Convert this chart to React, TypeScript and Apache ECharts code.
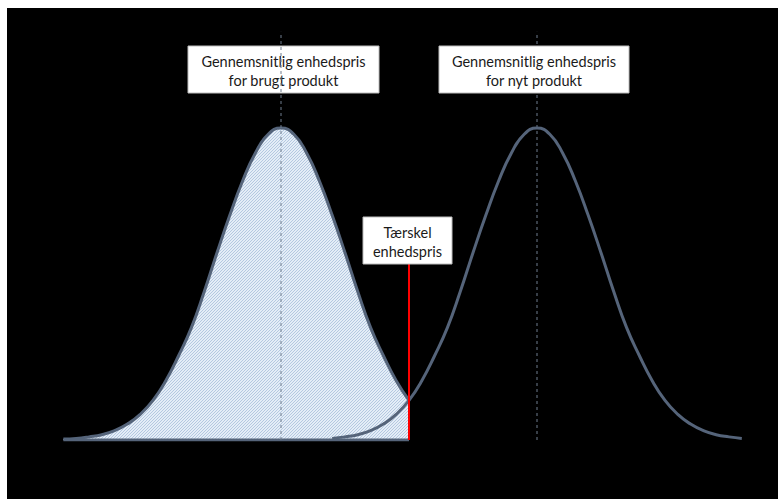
import React, { useEffect, useRef } from "react";
import * as echarts from "echarts";

// Price positions (arbitrary price units) and relative frequency (peak = 1)
const usedPrices = [13, 14, 15, 16, 17, 18, 19, 20, 21, 22, 23, 24, 25, 26, 27, 28, 29, 30, 31, 32, 33, 34, 35, 36, 37, 38, 39, 40];
const usedDensity = [0.003, 0.005, 0.01, 0.017, 0.03, 0.051, 0.082, 0.127, 0.19, 0.27, 0.36, 0.475, 0.6, 0.72, 0.83, 0.92, 0.98, 1, 0.98, 0.92, 0.83, 0.72, 0.6, 0.475, 0.36, 0.27, 0.19, 0.127];
const newPrices = [34, 35, 36, 37, 38, 39, 40, 41, 42, 43, 44, 45, 46, 47, 48, 49, 50, 51, 52, 53, 54, 55, 56, 57, 58, 59, 60, 61, 62, 63, 64, 65, 66];
const newDensity = [0.005, 0.01, 0.017, 0.03, 0.051, 0.082, 0.127, 0.19, 0.27, 0.36, 0.475, 0.6, 0.72, 0.83, 0.92, 0.98, 1, 0.98, 0.92, 0.83, 0.72, 0.6, 0.475, 0.36, 0.27, 0.19, 0.127, 0.082, 0.051, 0.03, 0.017, 0.01, 0.005];
const usedMean = 30;
const newMean = 50;
const threshold = 40;
const thresholdTop = 0.564;
const meanLineTop = 1.308;

const usedLabel = "Gennemsnitlig enhedspris\nfor brugt produkt";
const newLabel = "Gennemsnitlig enhedspris\nfor nyt produkt";
const thresholdLabel = "Tærskel\nenhedspris";

const CURVE = "#55647a";

function makePattern() {
  const c = document.createElement("canvas");
  c.width = 3;
  c.height = 3;
  const ctx = c.getContext("2d")!;
  ctx.fillStyle = "#e4edf7";
  ctx.fillRect(0, 0, 3, 3);
  ctx.fillStyle = "#b4c8e0";
  for (let i = 0; i < 3; i++) ctx.fillRect(i, 2 - i, 1, 1);
  return c;
}

function box(x: number, y: number, w: number, h: number, text: string) {
  return {
    type: "group",
    z: 5,
    children: [
      {
        type: "rect",
        z: 5,
        shape: { x, y, width: w, height: h },
        style: { fill: "#ffffff", stroke: "#bdbdbd", lineWidth: 1 },
      },
      {
        type: "text",
        z: 6,
        x: x + w / 2,
        y: y + h / 2 + 1,
        style: {
          text,
          fill: "#1a1a1a",
          font: "14.5px Lato",
          lineHeight: 19,
          align: "center",
          verticalAlign: "middle",
        },
      },
    ],
  };
}

export default function App() {
  const ref = useRef<HTMLDivElement>(null);
  useEffect(() => {
    if (!ref.current) return;
    const chart = echarts.init(ref.current, null, { renderer: "svg" });
    const pattern = makePattern();
    const used = usedPrices.map((p, i) => [p, usedDensity[i]]);
    const nw = newPrices.map((p, i) => [p, newDensity[i]]);
    chart.setOption({
      animation: false,
      backgroundColor: "#000000",
      grid: { left: 18, top: 26.4, width: 716.8, height: 405.6 },
      xAxis: { type: "value", min: 10, max: 66, show: false, splitLine: { show: false } },
      yAxis: { type: "value", min: 0, max: 1.3, show: false, splitLine: { show: false } },
      series: [
        {
          type: "line",
          z: 2,
          data: used,
          smooth: true,
          showSymbol: false,
          clip: false,
          lineStyle: { color: CURVE, width: 3 },
          areaStyle: { color: { image: pattern, repeat: "repeat" }, opacity: 1 },
        },
        {
          type: "line",
          z: 3,
          data: [[usedPrices[0], 0], [threshold, 0]],
          showSymbol: false,
          lineStyle: { color: CURVE, width: 3 },
        },
        {
          type: "line",
          z: 10,
          data: [[usedMean, 0], [usedMean, meanLineTop]],
          showSymbol: false,
          clip: false,
          lineStyle: { color: "#6f7c8e", width: 1, type: [3, 3] },
        },
        {
          type: "line",
          z: 1,
          data: [[newMean, 0], [newMean, meanLineTop]],
          showSymbol: false,
          clip: false,
          lineStyle: { color: "#6f7c8e", width: 1, type: [3, 3] },
        },
        {
          type: "line",
          z: 4,
          data: nw,
          smooth: true,
          showSymbol: false,
          clip: false,
          lineStyle: { color: CURVE, width: 3 },
        },
        {
          type: "line",
          z: 4,
          data: [[threshold, 0], [threshold, thresholdTop]],
          showSymbol: false,
          clip: false,
          lineStyle: { color: "#ff0000", width: 2 },
        },
      ],
      graphic: [
        box(181, 38, 191, 47, usedLabel),
        box(432, 38, 190, 47, newLabel),
        box(356, 209, 89, 47, thresholdLabel),
      ],
    });
    return () => chart.dispose();
  }, []);
  return (
    <div
      ref={ref}
      style={{ position: "fixed", left: 7, top: 8, width: 771, height: 491, background: "#000" }}
    />
  );
}
